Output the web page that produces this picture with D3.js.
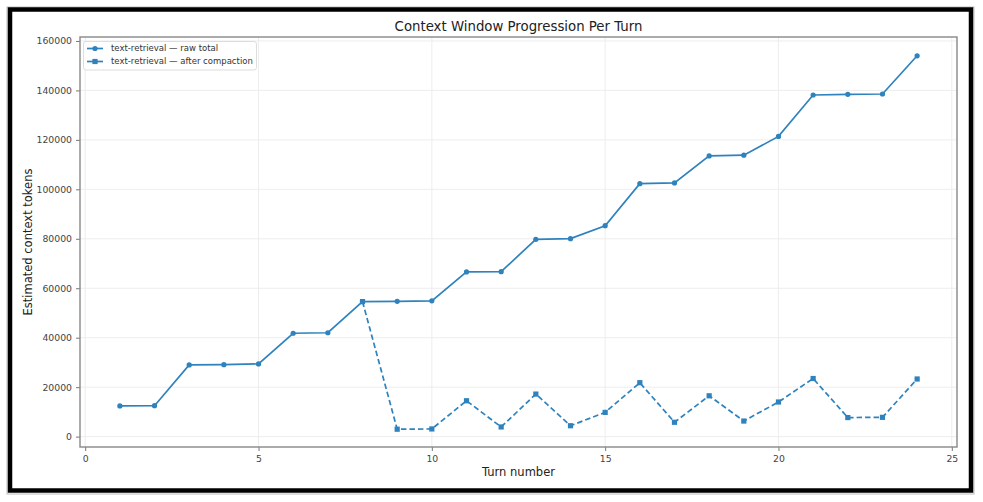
<!DOCTYPE html>
<html>
<head>
<meta charset="utf-8">
<script src="https://cdn.jsdelivr.net/npm/d3@7"></script>
<style>
  html, body { margin: 0; padding: 0; background: #fff; }
  svg { display: block; font-family: "DejaVu Sans", sans-serif; }
</style>
</head>
<body>
<svg id="chart" width="983" height="502"></svg>
<script>
// ---- data ----
const turns = [1,2,3,4,5,6,7,8,9,10,11,12,13,14,15,16,17,18,19,20,21,22,23,24];
const rawTotal = [12400,12500,29000,29100,29400,41800,42000,54600,54700,54900,66600,66700,79800,80050,85300,102300,102600,113500,113800,121400,138150,138400,138550,154000];
const compactTurns = [8,9,10,11,12,13,14,15,16,17,18,19,20,21,22,23,24];
const afterCompaction = [54600,3000,3100,14500,3900,17200,4400,9800,21800,5800,16500,6300,14000,23500,7700,7800,23300];
const xTicks = [0,5,10,15,20,25];
const yTicks = [0,20000,40000,60000,80000,100000,120000,140000,160000];
const seriesNames = ["text-retrieval \u2014 raw total", "text-retrieval \u2014 after compaction"];
const titleText = "Context Window Progression Per Turn";
const xLabel = "Turn number";
const yLabel = "Estimated context tokens";

// ---- layout ----
const svg = d3.select("#chart");
const L = 80, R = 957, T = 37, B = 447;
const color = "#2e82bd";

const x = d3.scaleLinear().domain([-0.15, 25.15]).range([L, R]);
const y = d3.scaleLinear().domain([-4200, 161600]).range([B, T]);

// outer frame
svg.append("rect").attr("x", 7).attr("y", 7).attr("width", 967).attr("height", 487)
  .attr("fill", "none").attr("stroke", "#bbb").attr("stroke-width", 1);
svg.append("rect").attr("x", 10).attr("y", 9.5).attr("width", 961).attr("height", 481)
  .attr("fill", "#fff").attr("stroke", "#000").attr("stroke-width", 4.5);

// grid
const grid = svg.append("g").attr("stroke", "#ebebeb").attr("stroke-width", 0.9);
xTicks.forEach(t => grid.append("line").attr("x1", x(t)).attr("x2", x(t)).attr("y1", T).attr("y2", B));
yTicks.forEach(t => grid.append("line").attr("x1", L).attr("x2", R).attr("y1", y(t)).attr("y2", y(t)));

// axes
const xAxis = d3.axisBottom(x).tickValues(xTicks).tickSizeOuter(0).tickSize(4).tickPadding(4).tickFormat(d3.format("d"));
const yAxis = d3.axisLeft(y).tickValues(yTicks).tickSizeOuter(0).tickSize(4).tickPadding(4).tickFormat(d3.format("d"));
const gx = svg.append("g").attr("transform", `translate(0,${B})`).call(xAxis);
const gy = svg.append("g").attr("transform", `translate(${L},0)`).call(yAxis);
[gx, gy].forEach(g => {
  g.attr("font-family", "DejaVu Sans").attr("font-size", 9.3);
  g.select(".domain").remove();
  g.selectAll(".tick line").attr("stroke", "#777").attr("stroke-width", 1);
  g.selectAll(".tick text").attr("fill", "#444");
});

// spines
svg.append("rect").attr("x", L).attr("y", T).attr("width", R - L).attr("height", B - T)
  .attr("fill", "none").attr("stroke", "#888").attr("stroke-width", 1.4);

// lines
const line = d3.line().x(d => x(d[0])).y(d => y(d[1]));
const rawData = turns.map((t, i) => [t, rawTotal[i]]);
const compData = compactTurns.map((t, i) => [t, afterCompaction[i]]);

svg.append("path").datum(compData).attr("d", line).attr("fill", "none")
  .attr("stroke", color).attr("stroke-width", 1.7).attr("stroke-dasharray", "5.5,3");
svg.append("path").datum(rawData).attr("d", line).attr("fill", "none")
  .attr("stroke", color).attr("stroke-width", 1.7);

svg.append("g").selectAll("rect").data(compData).join("rect")
  .attr("x", d => x(d[0]) - 2.6).attr("y", d => y(d[1]) - 2.6)
  .attr("width", 5.2).attr("height", 5.2).attr("fill", color);
svg.append("g").selectAll("circle").data(rawData).join("circle")
  .attr("cx", d => x(d[0])).attr("cy", d => y(d[1])).attr("r", 2.6).attr("fill", color);

// legend
const lg = svg.append("g");
lg.append("rect").attr("x", 83.5).attr("y", 41.5).attr("width", 173).attr("height", 28.5)
  .attr("rx", 2.5).attr("fill", "#fff").attr("fill-opacity", 0.85).attr("stroke", "#ddd").attr("stroke-width", 1);
const rows = [48.5, 61.5];
rows.forEach((ry, i) => {
  lg.append("line").attr("x1", 87).attr("x2", 103).attr("y1", ry).attr("y2", ry)
    .attr("stroke", color).attr("stroke-width", 1.7);
  if (i === 0) lg.append("circle").attr("cx", 95).attr("cy", ry).attr("r", 2.6).attr("fill", color);
  else lg.append("rect").attr("x", 95 - 2.6).attr("y", ry - 2.6).attr("width", 5.2).attr("height", 5.2).attr("fill", color);
  lg.append("text").attr("x", 111).attr("y", ry).attr("dy", "0.35em")
    .attr("fill", "#333").style("font-size", "8.5px").text(seriesNames[i]);
});

// title and labels
svg.append("text").attr("x", (L + R) / 2).attr("y", 30.5).attr("text-anchor", "middle")
  .attr("fill", "#222").style("font-size", "13.3px").text(titleText);
svg.append("text").attr("x", (L + R) / 2).attr("y", 476).attr("text-anchor", "middle")
  .attr("fill", "#222").style("font-size", "11.5px").text(xLabel);
svg.append("text").attr("transform", `translate(31.5,${(T + B) / 2}) rotate(-90)`).attr("text-anchor", "middle")
  .attr("fill", "#222").style("font-size", "11.5px").text(yLabel);
</script>
</body>
</html>
